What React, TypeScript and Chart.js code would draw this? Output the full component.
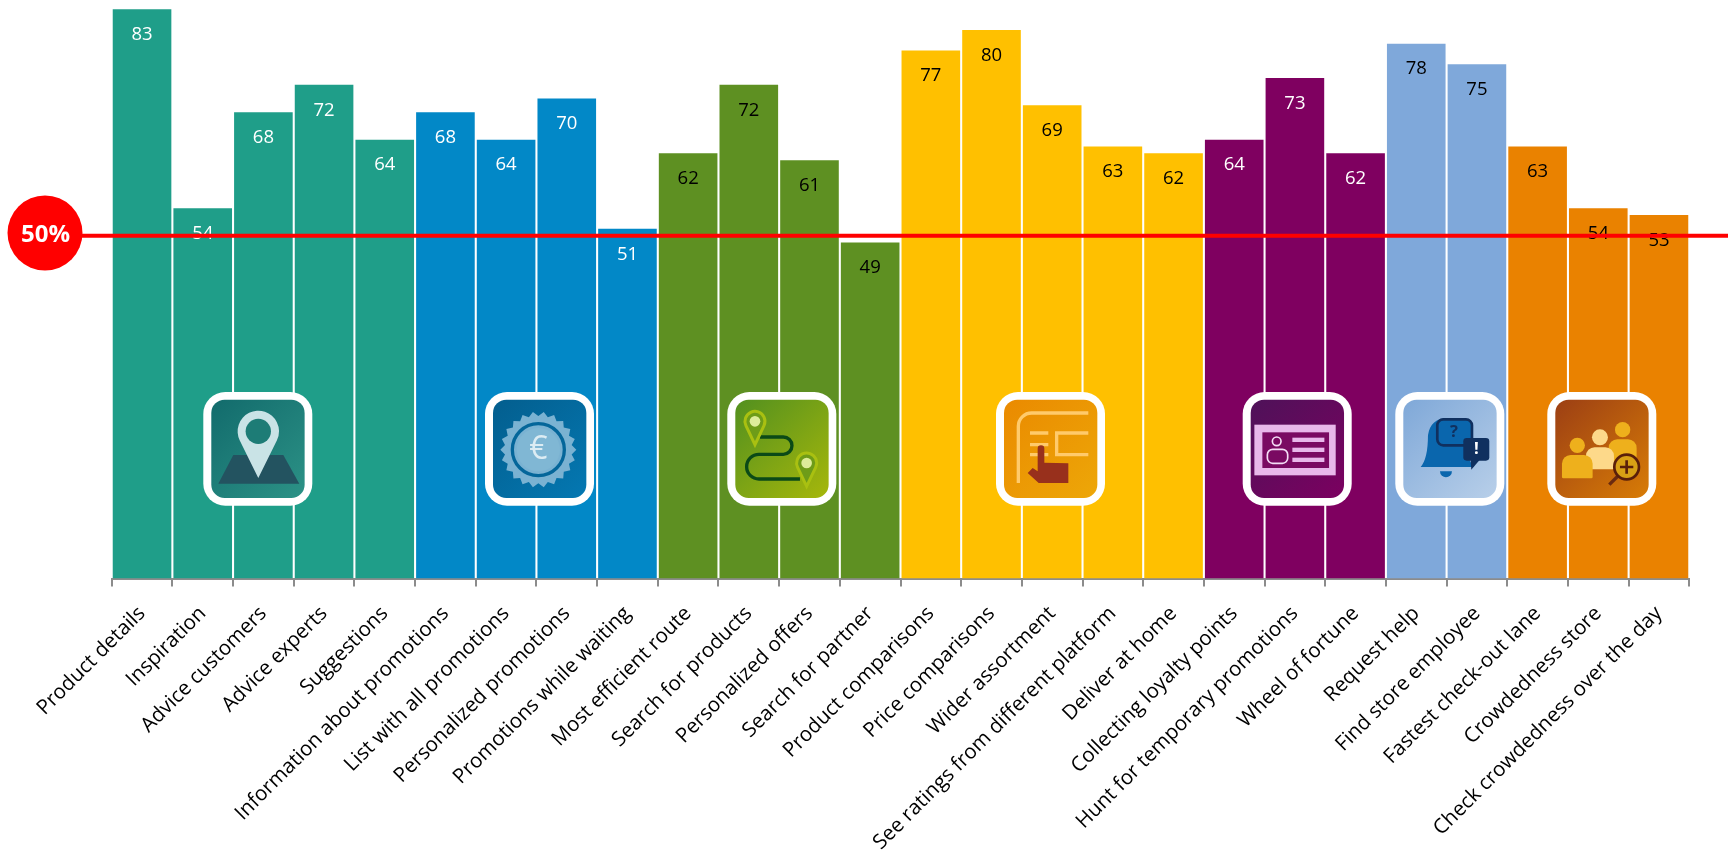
import React, { useEffect, useRef } from "react";
import { Chart, registerables } from "chart.js";

Chart.register(...registerables);

const categories = [
  "Product details", "Inspiration", "Advice customers", "Advice experts", "Suggestions",
  "Information about promotions", "List with all promotions", "Personalized promotions", "Promotions while waiting",
  "Most efficient route", "Search for products", "Personalized offers", "Search for partner",
  "Product comparisons", "Price comparisons", "Wider assortment", "See ratings from different platform", "Deliver at home",
  "Collecting loyalty points", "Hunt for temporary promotions", "Wheel of fortune",
  "Request help", "Find store employee",
  "Fastest check-out lane", "Crowdedness store", "Check crowdedness over the day",
];
const scores = [83, 54, 68, 72, 64, 68, 64, 70, 51, 62, 72, 61, 49, 77, 80, 69, 63, 62, 64, 73, 62, 78, 75, 63, 54, 53];
const groupSizes = [5, 4, 4, 5, 3, 2, 3];
const groupColors = ["#1F9E89", "#0288C7", "#5E9022", "#FFC000", "#7F0060", "#7FA8DA", "#EA8200"];
const groupLabelColors = ["#FFFFFF", "#FFFFFF", "#000000", "#000000", "#FFFFFF", "#000000", "#000000"];
const threshold = 50;
const thresholdLabel = "50%";

const FONT = '"Open Sans", sans-serif';

const barColors = groupSizes.flatMap((n, g) => Array(n).fill(groupColors[g]));
const valueColors = groupSizes.flatMap((n, g) => Array(n).fill(groupLabelColors[g]));

type Ctx = CanvasRenderingContext2D;

function grad(c: Ctx, a: string, b: string) {
  const g = c.createLinearGradient(24, 23, 304, 318);
  g.addColorStop(0, a);
  g.addColorStop(1, b);
  c.fillStyle = g;
  c.beginPath();
  c.roundRect(24, 23, 280, 295, 40);
  c.fill();
}

function rr(c: Ctx, x0: number, y0: number, x1: number, y1: number, r: number | number[]) {
  c.beginPath();
  c.roundRect(x0, y0, x1 - x0, y1 - y0, r);
}

function pin(c: Ctx, cx: number, cy: number, r: number, tipY: number) {
  const a = Math.asin(r / (tipY - cy));
  c.beginPath();
  c.arc(cx, cy, r, Math.PI - a, 2 * Math.PI + a);
  c.lineTo(cx, tipY);
  c.closePath();
}

// Pictograms are laid out in a 327 x 341 unit box, one per attribute group.
function mapIcon(c: Ctx) {
  grad(c, "#126B6C", "#2C9286");
  c.fillStyle = "#235360";
  c.beginPath();
  c.moveTo(90, 189); c.lineTo(240, 189); c.lineTo(288, 275); c.lineTo(45, 275);
  c.closePath();
  c.fill();
  c.fillStyle = "#C9E3E6";
  pin(c, 165, 118, 62, 258);
  c.fill();
  c.fillStyle = "#1D7C76";
  c.beginPath(); c.arc(165, 118, 38, 0, Math.PI * 2); c.fill();
}

function euroIcon(c: Ctx) {
  grad(c, "#035E8E", "#0478B2");
  const cx = 160, cy = 173;
  c.fillStyle = "#7AB2D2";
  c.beginPath();
  const teeth = 22;
  for (let i = 0; i < teeth * 2; i++) {
    const r = i % 2 === 0 ? 114 : 101;
    const t = (i / (teeth * 2)) * Math.PI * 2;
    c.lineTo(cx + r * Math.cos(t), cy + r * Math.sin(t));
  }
  c.closePath();
  c.fill();
  c.strokeStyle = "#04669A";
  c.lineWidth = 10;
  c.beginPath(); c.arc(cx, cy, 78, 0, Math.PI * 2); c.stroke();
  c.fillStyle = "#80B7D4";
  c.beginPath(); c.arc(cx, cy, 65, 0, Math.PI * 2); c.fill();
  c.fillStyle = "#DCECF3";
  c.font = `400 96px ${FONT}`;
  c.textAlign = "center";
  c.textBaseline = "middle";
  c.fillText("€", cx, cy + 2);
}

function routeIcon(c: Ctx) {
  grad(c, "#52901F", "#A6B70B");
  c.strokeStyle = "#0B4A17";
  c.lineWidth = 10;
  c.beginPath();
  c.moveTo(98, 135); c.lineTo(168, 135);
  c.arc(168, 161, 26, -Math.PI / 2, Math.PI / 2);
  c.lineTo(95, 187);
  c.arc(95, 224, 37, -Math.PI / 2, Math.PI / 2, true);
  c.lineTo(218, 261);
  c.stroke();
  for (const [x, y] of [[83, 88], [238, 213]]) {
    c.fillStyle = "#6E9C18";
    c.strokeStyle = "#A9C011";
    c.lineWidth = 9;
    pin(c, x, y, 30, y + 70);
    c.fill();
    c.stroke();
    c.fillStyle = "#DDEC9A";
    c.beginPath(); c.arc(x, y, 16, 0, Math.PI * 2); c.fill();
  }
}

function pickIcon(c: Ctx) {
  grad(c, "#EA8A00", "#EDA708");
  c.strokeStyle = "#FFCA6B";
  c.lineWidth = 10;
  c.beginPath();
  c.moveTo(67, 273); c.lineTo(67, 103);
  c.arc(107, 103, 40, Math.PI, -Math.PI / 2);
  c.lineTo(277, 63);
  c.moveTo(102, 123); c.lineTo(157, 123);
  c.moveTo(102, 158); c.lineTo(157, 158);
  c.moveTo(102, 188); c.lineTo(157, 188);
  c.moveTo(277, 123); c.lineTo(182, 123); c.lineTo(182, 188); c.lineTo(277, 188);
  c.stroke();
  c.fillStyle = "#98301C";
  c.beginPath();
  c.moveTo(125, 170);
  c.arc(135, 170, 10, Math.PI, 0);
  c.lineTo(145, 212);
  c.lineTo(217, 214);
  c.lineTo(217, 273);
  c.lineTo(128, 273);
  c.lineTo(95, 243);
  c.lineTo(110, 228);
  c.lineTo(125, 238);
  c.closePath();
  c.fill();
}

function cardIcon(c: Ctx) {
  grad(c, "#4E1259", "#7C0060");
  c.fillStyle = "#E8B8EA";
  c.fillRect(35, 98, 244, 152);
  c.fillStyle = "#7A0A62";
  c.fillRect(59, 121, 200, 107);
  c.fillStyle = "#E8B8EA";
  c.fillRect(149, 137, 96, 13);
  c.fillRect(149, 167, 96, 13);
  c.fillRect(149, 197, 96, 13);
  c.strokeStyle = "#F4DDF6";
  c.lineWidth = 5;
  c.beginPath(); c.arc(102, 148, 13, 0, Math.PI * 2); c.stroke();
  rr(c, 74, 172, 135, 214, 16);
  c.stroke();
}

function bellIcon(c: Ctx) {
  grad(c, "#7FA8D8", "#B8CFE9");
  c.fillStyle = "#0A66AD";
  c.beginPath();
  c.moveTo(76, 225);
  c.quadraticCurveTo(98, 200, 98, 130);
  c.quadraticCurveTo(105, 80, 155, 78);
  c.quadraticCurveTo(205, 80, 212, 130);
  c.quadraticCurveTo(212, 200, 236, 225);
  c.closePath();
  c.fill();
  c.beginPath(); c.arc(152, 238, 18, 0, Math.PI); c.fill();
  c.strokeStyle = "#10305F";
  c.lineWidth = 8;
  rr(c, 126, 82, 230, 160, 18);
  c.fillStyle = "#0A66AD";
  c.fill();
  c.stroke();
  c.fillStyle = "#10305F";
  c.font = `700 50px ${FONT}`;
  c.textAlign = "center";
  c.textBaseline = "middle";
  c.fillText("?", 176, 122);
  rr(c, 204, 138, 282, 206, 10);
  c.fill();
  c.beginPath();
  c.moveTo(226, 200); c.lineTo(228, 233); c.lineTo(256, 200);
  c.closePath();
  c.fill();
  c.fillStyle = "#FFFFFF";
  c.font = `700 50px ${FONT}`;
  c.fillText("!", 243, 172);
}

function crowdIcon(c: Ctx) {
  grad(c, "#9C3F14", "#D87C06");
  const person = (x: number, y: number, r: number, w: number, h: number, col: string) => {
    c.fillStyle = col;
    c.beginPath(); c.arc(x, y, r, 0, Math.PI * 2); c.fill();
    rr(c, x - w / 2, y + r + 6, x + w / 2, y + r + 6 + h, [26, 26, 4, 4]);
    c.fill();
  };
  person(226, 113, 23, 84, 70, "#EEB01C");
  person(158, 136, 24, 84, 66, "#FDD98A");
  person(90, 160, 23, 92, 70, "#EEB01C");
  c.strokeStyle = "#6A2A10";
  c.lineWidth = 10;
  c.beginPath(); c.moveTo(212, 252); c.lineTo(186, 278); c.stroke();
  c.fillStyle = "#D8A015";
  c.strokeStyle = "#5A1F0A";
  c.lineWidth = 8;
  c.beginPath(); c.arc(238, 225, 37, 0, Math.PI * 2); c.fill(); c.stroke();
  c.beginPath();
  c.moveTo(218, 225); c.lineTo(258, 225);
  c.moveTo(238, 205); c.lineTo(238, 245);
  c.stroke();
}

const iconDrawers = [mapIcon, euroIcon, routeIcon, pickIcon, cardIcon, bellIcon, crowdIcon];
const iconLeft = [203.3, 485, 727.3, 996, 1242.7, 1395.3, 1547.3];
const iconTop = 392;

const overlay = {
  id: "overlay",
  afterDatasetsDraw(chart: any) {
    const { ctx, scales, data } = chart;
    const meta = chart.getDatasetMeta(0);
    const values = data.datasets[0].data as number[];

    // value labels inside the top of each bar
    ctx.save();
    ctx.font = `400 18.5px ${FONT}`;
    ctx.textAlign = "center";
    ctx.textBaseline = "middle";
    meta.data.forEach((bar: any, i: number) => {
      ctx.fillStyle = valueColors[i];
      ctx.fillText(String(values[i]), bar.x, scales.y.getPixelForValue(values[i]) + 25.5);
    });
    ctx.restore();

    // group pictograms in white rounded frames
    iconDrawers.forEach((draw, i) => {
      ctx.save();
      ctx.translate(iconLeft[i], iconTop);
      ctx.scale(1 / 3, 1 / 3);
      ctx.fillStyle = "#FFFFFF";
      ctx.beginPath();
      ctx.roundRect(0, 0, 327, 341, 66);
      ctx.fill();
      draw(ctx);
      ctx.restore();
    });

    // 50% reference line and its badge
    const y = scales.y.getPixelForValue(threshold);
    ctx.save();
    ctx.strokeStyle = "#FF0000";
    ctx.lineWidth = 4;
    ctx.beginPath();
    ctx.moveTo(60, y);
    ctx.lineTo(chart.width, y);
    ctx.stroke();
    ctx.fillStyle = "#FF0000";
    ctx.beginPath();
    ctx.arc(45, 233, 37.5, 0, Math.PI * 2);
    ctx.fill();
    ctx.fillStyle = "#FFFFFF";
    ctx.font = `700 24px ${FONT}`;
    ctx.textAlign = "center";
    ctx.textBaseline = "middle";
    ctx.fillText(thresholdLabel, 45.5, 235);
    ctx.restore();
  },
};

export default function App() {
  const ref = useRef<HTMLCanvasElement>(null);

  useEffect(() => {
    const chart = new Chart(ref.current!, {
      type: "bar",
      data: {
        labels: categories,
        datasets: [{
          data: scores,
          backgroundColor: barColors,
          categoryPercentage: 1,
          barPercentage: 0.966,
        }],
      },
      options: {
        responsive: false,
        animation: false,
        layout: { padding: { left: 111.7, right: 38.7, top: 2.5, bottom: 0 } },
        plugins: { legend: { display: false }, tooltip: { enabled: false } },
        scales: {
          x: {
            grid: { offset: true, drawOnChartArea: false, drawTicks: true, tickLength: 8, color: "#8C8C8C", lineWidth: 2 },
            border: { color: "#8C8C8C", width: 2 },
            ticks: {
              autoSkip: false,
              minRotation: 45,
              maxRotation: 45,
              padding: 15,
              color: "#000000",
              font: { family: FONT, size: 20.5 },
            },
            afterFit(scale: any) {
              scale.height = 273.5;
              scale.paddingLeft = 0;
              scale.paddingRight = 0;
            },
          },
          y: { display: false, min: 0, max: 84 },
        },
      },
      plugins: [overlay],
    });
    return () => chart.destroy();
  }, []);

  return (
    <div style={{ position: "fixed", left: 0, top: 0, width: 1728, height: 852, background: "#FFFFFF" }}>
      <canvas ref={ref} width={1728} height={852} style={{ display: "block" }} />
    </div>
  );
}
